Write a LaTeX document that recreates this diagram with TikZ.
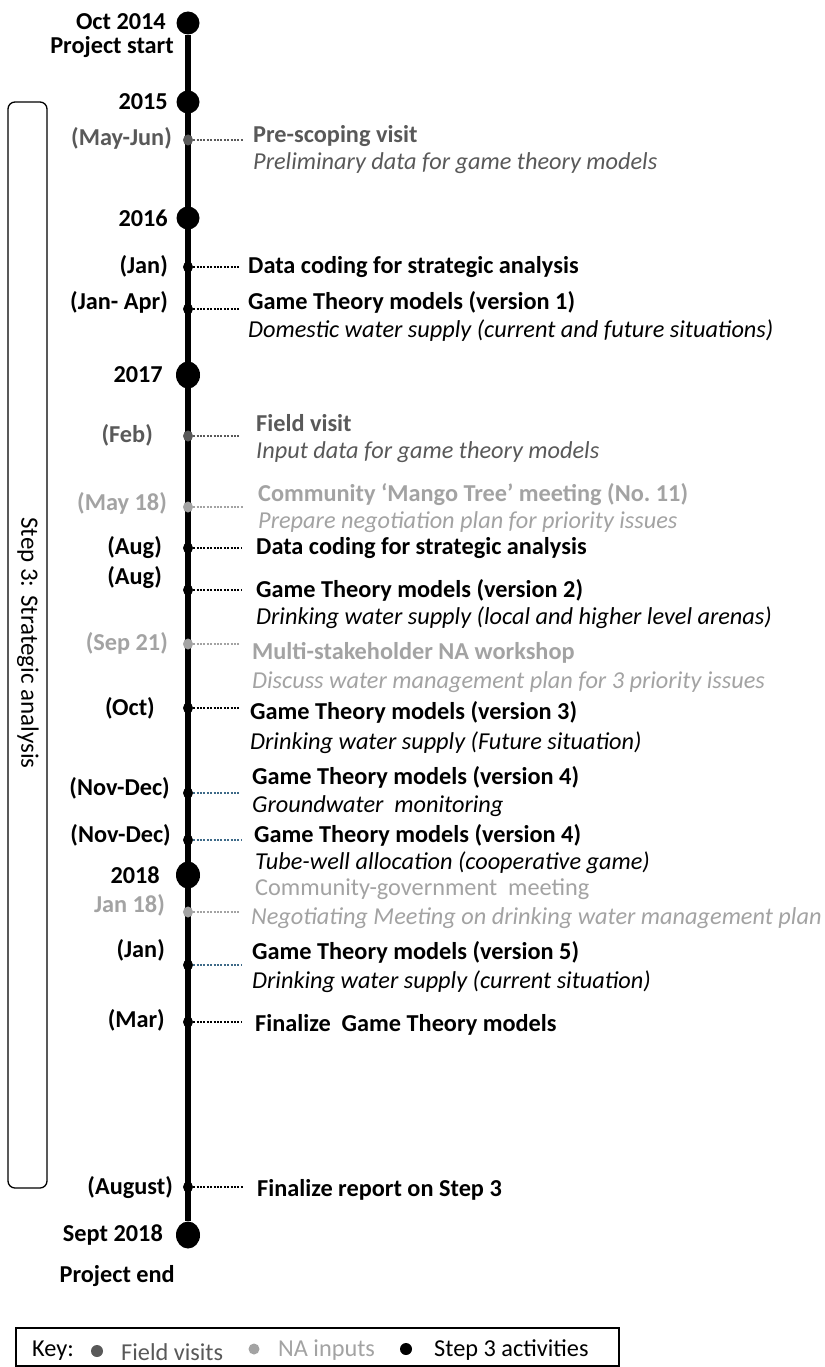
\documentclass[tikz,border=0pt]{standalone}
\usepackage{fontspec}
\setmainfont{Carlito}
\usetikzlibrary{shapes.geometric}
\definecolor{fvgray}{HTML}{595959}
\definecolor{nagray}{HTML}{A3A3A3}
\definecolor{linkblue}{HTML}{3E6A88}
\newcommand\tlsize{\fontsize{24.3}{28}\selectfont}
\tikzset{
  yeardot/.style={circle,fill=black,inner sep=0pt,minimum size=23pt},
  yearoval/.style={ellipse,fill=black,inner sep=0pt,minimum width=24pt,minimum height=27pt},
  evdot/.style={ellipse,fill=#1,inner sep=0pt,minimum width=10pt,minimum height=11pt},
  evdot/.default=black,
  datelbl/.style={anchor=east,inner sep=0pt,font=\tlsize\bfseries,text=#1},
  datelbl/.default=black,
  title/.style={anchor=west,inner sep=0pt,font=\tlsize\bfseries,text=#1},
  title/.default=black,
  detail/.style={anchor=west,inner sep=0pt,font=\tlsize\itshape,text=#1},
  detail/.default=black,
  plain/.style={anchor=west,inner sep=0pt,font=\tlsize,text=#1},
  plain/.default=black,
  link/.style={draw=#1,line width=1.1pt,dash pattern=on 2pt off 1.4pt},
  link/.default=black,
}
\begin{document}
\begin{tikzpicture}[x=1pt,y=-1pt,font=\tlsize]
\useasboundingbox (0,0) rectangle (824,1367);
\fill[white] (0,0) rectangle (824,1367);

% step 3 bracket box
\draw[line width=1.3pt,rounded corners=7pt] (8,102) rectangle (47,1188);
\node[rotate=-90,font=\fontsize{25}{28}\selectfont] (steplbl) at (28,643) {Step 3: Strategic analysis};

% year markers
\node[yeardot] (oct) at (188,23) {};
\node[yeardot] (y15) at (188,102) {};
\node[yeardot] (y16) at (188,218) {};
\node[yearoval] (y17) at (188,375) {};
\node[yearoval] (y18) at (188,875) {};
\node[yearoval] (sep) at (188,1235) {};
\draw[line width=5.5pt] (oct) -- (sep);

\node[datelbl] (loct) at (166,22) {Oct 2014};
\node[datelbl] (lstart) at (174,47) {Project start};
\node[datelbl] (l15) at (168,102) {2015};
\node[datelbl] (l16) at (168,218) {2016};
\node[datelbl] (l17) at (163,375) {2017};
\node[datelbl] (l18) at (160,875) {2018};
\node[datelbl] (lsep) at (163,1235) {Sept 2018};
\node[datelbl] (lend) at (175,1276) {Project end};

% 2015 pre-scoping visit
\node[evdot=fvgray] (d1) at (188,140) {};
\coordinate (c1) at (243,140);
\draw[link=fvgray] (d1) -- (c1);
\node[datelbl=fvgray] (l1) at (172,138) {(May-Jun)};
\node[title=fvgray] (t1) at (253,136) {Pre-scoping visit};
\node[detail=fvgray] (s1) at (253,163) {Preliminary data for game theory models};

% 2016
\node[evdot] (d2) at (188,267) {};
\coordinate (c2) at (240,267);
\draw[link] (d2) -- (c2);
\node[datelbl] (l2) at (168,266) {(Jan)};
\node[title] (t2) at (248,267) {Data coding for strategic analysis};

\node[evdot] (d3) at (188,309) {};
\coordinate (c3) at (240,309);
\draw[link] (d3) -- (c3);
\node[datelbl] (l3) at (168,302) {(Jan- Apr)};
\node[title] (t3) at (248,302) {Game Theory models (version 1)};
\node[detail] (s3) at (248,331) {Domestic water supply (current and future situations)};

% 2017
\node[evdot=fvgray] (d4) at (188,436) {};
\coordinate (c4) at (240,436);
\draw[link=fvgray] (d4) -- (c4);
\node[datelbl=fvgray] (l4) at (153,435) {(Feb)};
\node[title=fvgray] (t4) at (256,423) {Field visit};
\node[detail=fvgray] (s4) at (256,452) {Input data for game theory models};

\node[evdot=nagray] (d5) at (188,507) {};
\coordinate (c5) at (243,507);
\draw[link=nagray] (d5) -- (c5);
\node[datelbl=nagray] (l5) at (167,503) {(May 18)};
\node[title=nagray] (t5) at (258,495) {Community ‘Mango Tree’ meeting (No.\ 11)};
\node[detail=nagray] (s5) at (258,522) {Prepare negotiation plan for priority issues};

\node[evdot] (d6) at (188,548) {};
\coordinate (c6) at (242,548);
\draw[link] (d6) -- (c6);
\node[datelbl] (l6) at (162,548) {(Aug)};
\node[title] (t6) at (256,548) {Data coding for strategic analysis};

\node[evdot] (d7) at (188,590) {};
\coordinate (c7) at (242,590);
\draw[link] (d7) -- (c7);
\node[datelbl] (l7) at (162,578) {(Aug)};
\node[title] (t7) at (256,590) {Game Theory models (version 2)};
\node[detail] (s7) at (256,618) {Drinking water supply (local and higher level arenas)};

\node[evdot=nagray] (d8) at (188,644) {};
\coordinate (c8) at (240,644);
\draw[link=nagray] (d8) -- (c8);
\node[datelbl=nagray] (l8) at (168,643) {(Sep 21)};
\node[title=nagray] (t8) at (252,653) {Multi-stakeholder NA workshop};
\node[detail=nagray] (s8) at (252,682) {Discuss water management plan for 3 priority issues};

\node[evdot] (d9) at (188,708) {};
\coordinate (c9) at (240,708);
\draw[link] (d9) -- (c9);
\node[datelbl] (l9) at (155,708) {(Oct)};
\node[title] (t9) at (250,712) {Game Theory models (version 3)};
\node[detail] (s9) at (250,743) {Drinking water supply (Future situation)};

\node[evdot] (d10) at (188,793) {};
\coordinate (c10) at (240,793);
\draw[link=linkblue] (d10) -- (c10);
\node[datelbl] (l10) at (170,788) {(Nov-Dec)};
\node[title] (t10) at (252,777) {Game Theory models (version 4)};
\node[detail] (s10) at (252,806) {Groundwater\ \ monitoring};

\node[evdot] (d11) at (188,840) {};
\coordinate (c11) at (242,840);
\draw[link=linkblue] (d11) -- (c11);
\node[datelbl] (l11) at (171,835) {(Nov-Dec)};
\node[title] (t11) at (254,835) {Game Theory models (version 4)};
\node[detail] (s11) at (255,863) {Tube-well allocation (cooperative game)};

% 2018
\node[evdot=nagray] (d12) at (188,912) {};
\coordinate (c12) at (240,912);
\draw[link=nagray] (d12) -- (c12);
\node[datelbl=nagray] (l12) at (165,905) {Jan 18)};
\node[plain=nagray] (t12) at (255,889) {Community-government\ \ meeting};
\node[detail=nagray] (s12) at (251,918) {Negotiating Meeting on drinking water management plan};

\node[evdot] (d13) at (188,965) {};
\coordinate (c13) at (242,965);
\draw[link=linkblue] (d13) -- (c13);
\node[datelbl] (l13) at (165,950) {(Jan)};
\node[title] (t13) at (252,952) {Game Theory models (version 5)};
\node[detail] (s13) at (252,982) {Drinking water supply (current situation)};

\node[evdot] (d14) at (188,1022) {};
\coordinate (c14) at (242,1022);
\draw[link] (d14) -- (c14);
\node[datelbl] (l14) at (165,1020) {(Mar)};
\node[title] (t14) at (255,1025) {Finalize\ \ Game Theory models};

\node[evdot] (d15) at (188,1187) {};
\coordinate (c15) at (244,1187);
\draw[link] (d15) -- (c15);
\node[datelbl] (l15) at (173,1188) {(August)};
\node[title] (t15) at (257,1190) {Finalize report on Step 3};

% key
\draw[line width=1.3pt] (16,1328) rectangle (619,1366);
\node[plain] (kkey) at (32,1351) {Key:};
\node[evdot=fvgray,minimum width=12pt,minimum height=12pt] (kd1) at (97,1351) {};
\node[plain=fvgray] (kfv) at (121,1352) {Field visits};
\node[evdot=nagray,minimum width=11pt,minimum height=11pt] (kd2) at (254,1349) {};
\node[plain=nagray] (kna) at (278,1350) {NA inputs};
\node[evdot,minimum width=12pt,minimum height=12pt] (kd3) at (406,1349) {};
\node[plain] (kst) at (434,1350) {Step 3 activities};
\end{tikzpicture}
\end{document}
